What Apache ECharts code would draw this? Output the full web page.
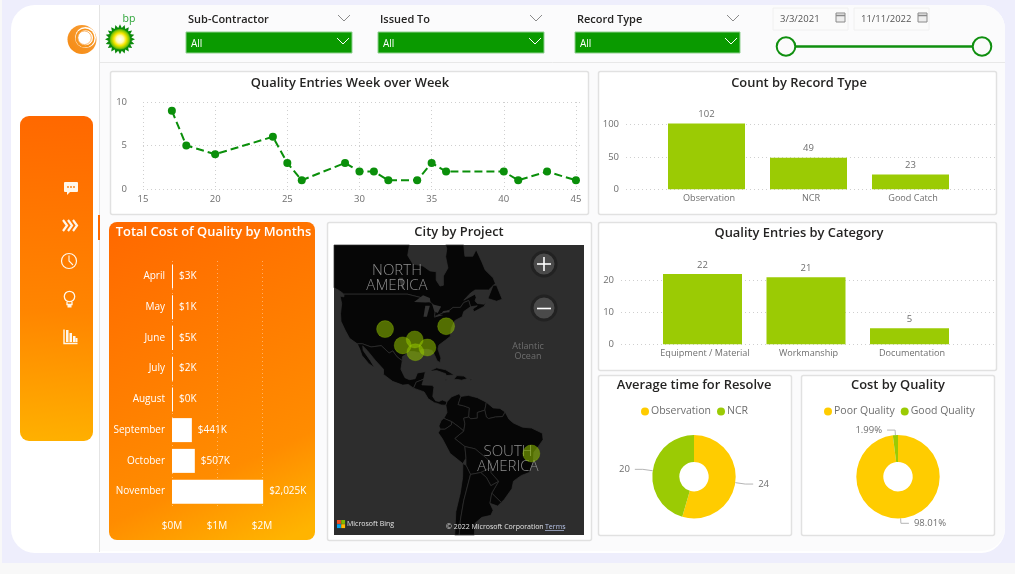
<!DOCTYPE html>
<html><head><meta charset="utf-8"><title>Quality dashboard</title>
<style>html,body{margin:0;padding:0;background:#f8f8f8;overflow:hidden}#c{width:1015px;height:574px}</style>
<script src="https://cdn.jsdelivr.net/npm/echarts@6/dist/echarts.min.js"></script></head>
<body><div id="c"></div>
<script>
// ---- data
const weeks = [17,18,20,24,25,26,29,30,31,32,34,35,36,40,41,43,45];
const weekEntries = [9,5,4,6,3,1,3,2,2,1,1,3,2,2,1,2,1];
const recordTypes = ['Observation','NCR','Good Catch'];
const recordCounts = [102,49,23];
const categories = ['Equipment / Material','Workmanship','Documentation'];
const categoryCounts = [22,21,5];
const months = ['April','May','June','July','August','September','October','November'];
const monthCostK = [3,1,5,2,0,441,507,2025];
const resolveNames = ['Observation','NCR'];
const resolveValues = [24,20];
const qualityNames = ['Poor Quality','Good Quality'];
const qualityValues = [98.01,1.99];
const cityLonLat = [[-104.8,37.8],[-77.8,38.8],[-97,31.9],[-91.7,34.1],[-86.1,31.1],[-91.4,29.3],[-40.1,-14]];
const slicers = ['Sub-Contractor','Issued To','Record Type'];
const dates = ['3/3/2021','11/11/2022'];
// ---- base-map outlines (lon, lat)
const viewLon = [-127.4,-16.8], viewLat = [-44.8,61.3];
const land = {
 canada:[[-127.4,50.8],[-127.4,61.3],[-94,61.3],[-94.8,59],[-92.5,57],[-88,56.5],[-85,55.3],[-82.2,55.1],[-82.2,52.9],[-80.5,51.3],[-79,51.5],[-79,54],[-77,56],[-78,58.7],[-77.5,60.5],[-78,61.3],[-70,61.3],[-69.5,58.8],[-66,58.8],[-64.5,60.3],[-62,57.5],[-60.5,55.5],[-57,53.5],[-56,52],[-59,50.2],[-65,50.2],[-67,49.3],[-70,47.2],[-65,49],[-64.5,48],[-65,47],[-64,46.2],[-61,46],[-60,46.9],[-61,45.3],[-65.5,43.6],[-66,44.5],[-64,45.5],[-67,45.2],[-67.8,47.1],[-70,46.5],[-71.5,45],[-74.7,45],[-76.5,44],[-79,43.3],[-83,42],[-82.5,45],[-84.5,46.5],[-89,48],[-95,49],[-123,49],[-125,50]],
 usa:[[-123,49],[-95,49],[-89,48],[-84.5,46.5],[-82.5,45],[-83,42],[-79,43.3],[-76.5,44],[-74.7,45],[-71.5,45],[-70,46.5],[-67.8,47.1],[-67,45.2],[-70,43.7],[-70.7,42],[-74,40.7],[-75.5,38],[-76,35.2],[-78,33.9],[-81,32],[-81.4,30.5],[-80.1,27],[-80.5,25.2],[-81.8,26],[-82.8,28],[-84,30],[-86,30.4],[-89,30.3],[-89.4,29],[-91.5,29.5],[-94,29.6],[-97.2,27.5],[-97.2,26],[-99.5,27.5],[-101.4,29.8],[-103,29],[-106.5,31.8],[-111,31.3],[-114.8,32.5],[-117.1,32.5],[-120.5,34.5],[-122.5,37.5],[-124.3,40.5],[-124.5,43],[-124,46.2],[-124.7,48.4],[-123,48.2]],
 mexico:[[-117.1,32.5],[-114.8,32.5],[-111,31.3],[-106.5,31.8],[-103,29],[-101.4,29.8],[-99.5,27.5],[-97.2,26],[-97.8,22.5],[-96,19],[-94,18.2],[-91.5,18.6],[-90.5,21],[-87,21.5],[-87.7,18.5],[-89,17.9],[-91,17.2],[-92.2,14.6],[-94.5,16.2],[-97,15.9],[-101.5,17.5],[-105.5,20.4],[-105.5,22.5],[-109,26],[-112.7,30],[-114.7,31.7],[-114.5,30],[-111.3,26],[-109.5,23.2],[-112,24.8],[-115,28],[-116,30.5]],
 central:[[-92.2,14.6],[-91,17.2],[-89,17.9],[-87.7,18.5],[-88.5,16],[-84,15.8],[-83.2,15],[-83.7,11],[-82.5,9.2],[-81,8.8],[-79.5,9.5],[-77.4,8.7],[-77.9,7.2],[-80,7.3],[-81.7,8],[-83,8.3],[-85.7,10],[-87.5,13]],
 colombia:[[-77.4,8.7],[-75.5,10.8],[-72,12.2],[-71.3,11],[-72.5,7.5],[-70,6.9],[-67.5,6],[-67.8,2],[-70,1.5],[-69.5,-1],[-70,-4.2],[-72,-2.5],[-75.3,-0.1],[-78.8,1.4],[-77.4,4],[-77.9,7.2]],
 venezuela:[[-71.3,11],[-68,11.5],[-64,10.5],[-60,8.5],[-60.7,5],[-64,4],[-64,1.5],[-67,1.2],[-67.8,2],[-67.5,6],[-70,6.9],[-72.5,7.5]],
 guianas:[[-60,8.5],[-57,6],[-54,5.8],[-51.7,4.2],[-52.8,2.2],[-56,2],[-59,1.3],[-60,2],[-60.7,5]],
 brazil:[[-51.7,4.2],[-50,1],[-48,-0.7],[-44,-2.5],[-40,-2.9],[-35.2,-5.2],[-34.9,-8],[-37,-11],[-39,-13.5],[-39.2,-17.5],[-41,-22],[-44.5,-23.2],[-48,-25.5],[-48.7,-28.5],[-52,-32.5],[-53.4,-33.7],[-57.6,-30.2],[-54.6,-25.6],[-58,-22],[-57.8,-18],[-60,-16],[-65,-12],[-69.5,-11],[-74,-7.5],[-70,-4.2],[-69.5,-1],[-70,1.5],[-67.8,2],[-67,1.2],[-64,1.5],[-64,4],[-60.7,5],[-60,2],[-59,1.3],[-56,2],[-52.8,2.2]],
 ecuador:[[-78.8,1.4],[-75.3,-0.1],[-75.5,-1.5],[-78.3,-3.4],[-80.3,-3.4],[-81,-2],[-80,0.5]],
 peru:[[-80.3,-3.4],[-78.3,-3.4],[-75.5,-1.5],[-75.3,-0.1],[-72,-2.5],[-70,-4.2],[-74,-7.5],[-69.5,-11],[-69,-16],[-70.4,-18.3],[-76,-14],[-79.5,-7.5],[-81.3,-5]],
 bolivia:[[-69.5,-11],[-65,-12],[-60,-16],[-57.8,-18],[-58,-20],[-62.5,-22],[-67,-22.8],[-69,-19],[-69,-16]],
 paraguay:[[-62.5,-22],[-58,-20],[-58,-22],[-54.6,-25.6],[-58,-27.3],[-60,-24]],
 chile:[[-70.4,-18.3],[-69,-19],[-67,-22.8],[-70,-33],[-71.5,-40],[-72,-44.8],[-74,-44.8],[-73.5,-37],[-71.5,-30],[-70.5,-24]],
 argentina:[[-67,-22.8],[-62.5,-22],[-60,-24],[-58,-27.3],[-54.6,-25.6],[-57.6,-30.2],[-58.4,-34],[-57,-36.5],[-58,-38.3],[-62,-39],[-65,-41],[-65.3,-44.8],[-72,-44.8],[-71.5,-40],[-70,-33]],
 uruguay:[[-57.6,-30.2],[-53.4,-33.7],[-55,-35],[-58.4,-34]],
 cuba:[[-84.9,21.9],[-82,23.1],[-78,22.3],[-74.2,20.2],[-77.7,19.9],[-78,20.7],[-82,22],[-84,21.8]],
 hispaniola:[[-74.4,18.4],[-73,19.9],[-69.9,19.7],[-68.4,18.6],[-71,18],[-72,18.2]],
 jamaica:[[-78.3,18.4],[-76.3,18.2],[-76.5,17.9],[-78.2,18]],
 puertorico:[[-67.2,18.5],[-65.7,18.4],[-65.9,18],[-67.2,18]],
 newfoundland:[[-59.3,47.7],[-57,51.5],[-55.5,51.5],[-53,47.5],[-55.5,46.9]]
};
const lakes = {
 superior:[[-92,46.7],[-88,48.7],[-85,47.9],[-84.7,46.6],[-87,46.5]],
 michigan:[[-87.8,42],[-86.3,42],[-85,45.5],[-87,45.5]],
 huron:[[-84,46],[-80,45.3],[-81.5,43.2],[-83,43.7]],
 erie:[[-83.3,41.7],[-79,42.6],[-79,42.9],[-81,42.7]],
 ontario:[[-79.7,43.3],[-76.3,43.5],[-76.3,44.1],[-79,43.9]],
 winnipeg:[[-98.8,53.5],[-97,53.5],[-96.5,50.5],[-97.2,50.5]]
};
// ---- style
const WATER='#2d2d2d', LAND='#060606', GREEN='#0a9a00', LIME='#9bcb04', YELLOW='#ffcc00', GRAY='#6e6e6e', TXT='#252423';
const FONT='"Open Sans","Noto Sans",sans-serif';
const ring=(o)=>o.concat([o[0]]);
const feat=(name,c)=>({type:'Feature',properties:{name},geometry:{type:'Polygon',coordinates:[ring(c)]}});
const world={type:'FeatureCollection',features:[
  feat('water',[[viewLon[0],viewLat[0]],[viewLon[1],viewLat[0]],[viewLon[1],viewLat[1]],[viewLon[0],viewLat[1]]]),
  ...Object.keys(land).map(k=>feat(k,land[k])),
  ...Object.keys(lakes).map(k=>feat(k,lakes[k]))]};
echarts.registerMap('americas',world);
const rad=Math.PI/180;
const project=(p)=>[p[0]*rad,-Math.log(Math.tan(Math.PI/4+p[1]*rad/2))];
const unproject=(p)=>[p[0]/rad,(2*Math.atan(Math.exp(-p[1]))-Math.PI/2)/rad];

// ---- chrome helpers
const G=[];
const rect=(x,y,w,h,fill,r,extra)=>G.push(Object.assign({type:'rect',z:-1,shape:{x,y,width:w,height:h,r:r||0},style:Object.assign({fill},extra||{})},{}));
const card=(x,y,w,h)=>rect(x+.5,y+.5,w,h,'#ffffff',2,{stroke:'#e1e1e1',lineWidth:1.5});
const text=(x,y,t,font,fill,align,z)=>G.push({type:'text',z:z==null?5:z,x,y,style:{text:t,font,fill,align:align||'left',verticalAlign:'middle',textAlign:align||'left',textVerticalAlign:'middle'}});
const line=(pts,stroke,w,z)=>G.push({type:'polyline',z:z==null?5:z,shape:{points:pts},style:{stroke,lineWidth:w||1,fill:null}});
const circle=(cx,cy,r,style,z)=>G.push({type:'circle',z:z==null?5:z,shape:{cx,cy,r},style});
const chevron=(cx,cy,color)=>line([[cx-6,cy-3],[cx,cy+3],[cx+6,cy-3]],color,1);

rect(2,0,1013,563,'#eeeefc');
rect(11,5,994,548,'#ffffff',24);
rect(100,5,905,546,'#fbfbfc',[0,24,24,0]);
line([[99.5,5],[99.5,552]],'#e4e4e4',1,0);
line([[100,62.5],[1005,62.5]],'#e8e8e8',1,0);
line([[99,215],[99,240]],'#ff6a00',2,1);

// sidebar
G.push({type:'rect',z:-1,shape:{x:20,y:116,width:73,height:325,r:9},style:{fill:new echarts.graphic.LinearGradient(.65,0,.35,1,[{offset:0,color:'#ff6800'},{offset:.6,color:'#ff8500'},{offset:1,color:'#ffb000'}])}});
const W='#fff7ea';
rect(64,182,14,10,W,1,{}); G[G.length-1].z=5;
G.push({type:'polygon',z:5,shape:{points:[[67,191],[71,191],[67,195]]},style:{fill:W}});
[68,71,74].forEach(x=>circle(x,187,.9,{fill:'#ff7a00'}));
[63,68,73].forEach(x=>line([[x,220],[x+4,225.5],[x,231]],W,2.2));
circle(69,261,7.5,{fill:null,stroke:W,lineWidth:1.2});
line([[69,255.5],[69,261],[73,265]],W,1.1);
circle(69.5,296.5,5.2,{fill:null,stroke:W,lineWidth:1.3});
line([[67,302],[67,304.5],[72,304.5],[72,302]],W,1.3);
rect(67.5,305,4,2.5,W,0); G[G.length-1].z=5;
line([[64,329.5],[64,343.5],[77.5,343.5]],W,1.4);
[[66,330,2.5,12],[69.5,333,2.5,9],[73,336,2.5,6],[75.5,338,2,4]].forEach(b=>{rect(b[0],b[1],b[2],b[3],W,0);G[G.length-1].z=5;});

// logos
circle(82,39.5,14.5,{fill:new echarts.graphic.LinearGradient(0,1,1,0,[{offset:0,color:'#f58a12'},{offset:1,color:'#f9a03a'}])},1);
circle(85.5,37.5,10.5,{fill:'#ffffff'},2);
circle(85,38,9.5,{fill:'#f7941d'},3);
circle(85.5,37.8,7.5,{fill:'#ffffff'},4);
circle(84.5,37.8,6.8,{fill:null,stroke:'#f7a54a',lineWidth:.8},4);
const starPts=[];for(let i=0;i<40;i++){const a=i*Math.PI/20,r=i%2?11.5:15;starPts.push([120+r*Math.sin(a),39.3-r*Math.cos(a)]);}
G.push({type:'polygon',z:1,shape:{points:starPts},style:{fill:'#0b8a0b'}});
circle(120,39.3,10.5,{fill:new echarts.graphic.RadialGradient(.5,.5,.5,[{offset:0,color:'#ffffff'},{offset:.35,color:'#fffbb0'},{offset:.6,color:'#f7e600'},{offset:.85,color:'#8cc800'},{offset:1,color:'#2ea30e'}])},2);
text(129,19,'bp','10.5px "Open Sans",sans-serif','#2fa53a','center');

// slicers
const slicerX=[186,378,575], slicerW=[166,166,165];
slicers.forEach((s,i)=>{
  text(slicerX[i]+2,19.5,s,'600 11px '+FONT,TXT);
  chevron(slicerX[i]+158,18,'#8a8a8a');
  rect(slicerX[i],32,slicerW[i],21,GREEN,0,{stroke:'#8fd08f',lineWidth:1});G[G.length-1].z=1;
  text(slicerX[i]+5,44.5,'All','10px '+FONT,'#ffffff');
  chevron(slicerX[i]+slicerW[i]-9,41,'#ffffff');
});
// date range
[773,854].forEach((x,i)=>{
  rect(x,8,75,22,'#fbfbfb',0,{stroke:'#f0f0f0',lineWidth:1});
  text(x+7,19.5,dates[i],'9.5px '+FONT,'#555');
  const ix=x+(i?64:63);
  G.push({type:'rect',z:5,shape:{x:ix,y:13,width:9,height:9},style:{fill:'#ededed',stroke:'#8a8a8a',lineWidth:1}});
  line([[ix,15.5],[ix+9,15.5]],'#8a8a8a',1.5);
});
line([[786,46.5],[982,46.5]],'#0f8f0f',2.5,1);
[786,982].forEach(x=>circle(x,46.5,9.3,{fill:'#fbfbfb',stroke:'#0f8f0f',lineWidth:2},2));

// cards
card(110,71,478,143); card(598,71,398,143); card(598,222,398,148);
card(327,222,264,318); card(598,375,193,160); card(801,375,193,160);
G.push({type:'rect',z:-1,shape:{x:109,y:222,width:206,height:318,r:8},style:{fill:new echarts.graphic.LinearGradient(.15,0,.85,1,[{offset:0,color:'#ff6a00'},{offset:.75,color:'#ff8c00'},{offset:1,color:'#ffb400'}])}});

// map overlays
const MT='#8e8e8e';
text(397,271,'NORTH','300 15px "Open Sans",sans-serif',MT,'center',1);
text(397,286,'AMERICA','300 15px "Open Sans",sans-serif',MT,'center',1);
text(528,346,'Atlantic','9px "Open Sans",sans-serif','#6e6e6e','center',1);
text(528,356,'Ocean','9px "Open Sans",sans-serif','#6e6e6e','center',1);
text(508,452,'SOUTH','300 15px "Open Sans",sans-serif',MT,'center',1);
text(508,467,'AMERICA','300 15px "Open Sans",sans-serif',MT,'center',1);
[264,308].forEach(y=>circle(544,y,12,{fill:'#4a4a4a',stroke:'#222',lineWidth:3},6));
line([[537,264],[551,264]],'#fff',1.6,7); line([[544,257],[544,271]],'#fff',1.6,7); line([[537,308.5],[551,308.5]],'#fff',1.6,7);
[['#f25022',337,520],['#7fba00',341.2,520],['#00a4ef',337,524.2],['#ffb900',341.2,524.2]].forEach(a=>{rect(a[1],a[2],3.9,3.9,a[0],0);G[G.length-1].z=6;});
text(347,524,'Microsoft Bing','7px "Open Sans",sans-serif','#e2e2e2','left',6);
text(446,526.5,'© 2022 Microsoft Corporation','7px "Open Sans",sans-serif','#e2e2e2','left',6);
text(545,526.5,'Terms','7px "Open Sans",sans-serif','#b8c4e8','left',6);
line([[545,530.5],[564,530.5]],'#b8c4e8',.7,6);

// ---- option
const titleAt=(t,x,y,color)=>({text:t,left:x,top:y,padding:0,textAlign:'center',textStyle:{fontFamily:FONT,fontWeight:600,fontSize:12.9,color:color||TXT}});
const dotted={show:true,lineStyle:{type:[1,3],color:'#cfcfcf',width:1}};
const lab={fontFamily:FONT,fontSize:9.5,color:GRAY};
const ylab={fontFamily:FONT,fontSize:9.5,color:GRAY,padding:[2,0,0,0]};
const xlab={fontFamily:FONT,fontSize:9.1,color:GRAY,padding:[0,0,0,5]};
const barLabel={show:true,position:'top',distance:4,fontFamily:FONT,fontSize:9.5,color:GRAY};
const hidden={show:false};
const pieBase=(cx,names,vals,fmt,colors,len)=>({type:'pie',center:[cx,476.7],radius:[14.7,41.7],startAngle:90,clockwise:true,silent:true,animation:false,
  label:{formatter:fmt,fontFamily:FONT,fontSize:9.5,color:GRAY},
  labelLine:{length:len,length2:8,lineStyle:{color:'#b5b5b5',width:1}},
  data:names.map((n,i)=>({name:n,value:vals[i],itemStyle:{color:colors[i]}}))});
const legendBase=(x,names)=>({left:x,top:406,padding:0,icon:'circle',itemWidth:8,itemHeight:8,itemGap:6,selectedMode:false,data:names,textStyle:{fontFamily:FONT,fontSize:10.5,color:GRAY,padding:[0,0,0,-3]}});
const option={
 animation:false,
 graphic:{elements:G},
 title:[titleAt('Quality Entries Week over Week',350,77),titleAt('Count by Record Type',799,77),
   titleAt('Quality Entries by Category',799,227),titleAt('Total Cost of Quality by Months',213.5,226,'#ffffff'),
   titleAt('City by Project',459,226),titleAt('Average time for Resolve',694,379),titleAt('Cost by Quality',898,379)],
 grid:[
  {left:143,top:102,width:438,height:87},
  {left:626,top:124.7,width:369,height:64.6},
  {left:655.5,top:111.8,width:306,height:77.5},
  {left:621,top:280.5,width:373,height:63.8},
  {left:650.75,top:248.6,width:310.5,height:95.7},
  {left:172,top:261,width:112.5,height:246}
 ],
 xAxis:[
  {gridIndex:0,type:'value',min:15,max:45.35,interval:5,axisLine:hidden,axisTick:hidden,splitLine:Object.assign({showMaxLine:false},dotted),axisLabel:Object.assign({margin:5,showMaxLabel:false},lab)},
  {gridIndex:1,type:'value',min:0,max:1,show:false},
  {gridIndex:2,type:'category',data:recordTypes,axisLine:hidden,axisTick:hidden,axisLabel:Object.assign({margin:5,interval:0},xlab)},
  {gridIndex:3,type:'value',min:0,max:1,show:false},
  {gridIndex:4,type:'category',data:categories,axisLine:hidden,axisTick:hidden,axisLabel:Object.assign({margin:5,interval:0},xlab)},
  {gridIndex:5,type:'value',min:0,max:2500,interval:1000,axisLine:hidden,axisTick:hidden,
   splitLine:{show:true,showMaxLine:false,lineStyle:{type:[1,3],color:'rgba(255,255,255,.4)'}},
   axisLabel:{margin:14,showMaxLabel:false,fontFamily:FONT,fontSize:10,color:'#ffffff',formatter:v=>'$'+v/1000+'M'}}
 ],
 yAxis:[
  {gridIndex:0,type:'value',min:0,max:10,interval:5,axisLine:hidden,axisTick:hidden,splitLine:dotted,axisLabel:Object.assign({margin:16},ylab)},
  {gridIndex:1,type:'value',min:0,max:100,interval:50,axisLine:hidden,axisTick:hidden,splitLine:dotted,axisLabel:Object.assign({margin:7},ylab)},
  {gridIndex:2,type:'value',min:0,max:120,show:false},
  {gridIndex:3,type:'value',min:0,max:20,interval:10,axisLine:hidden,axisTick:hidden,splitLine:dotted,axisLabel:Object.assign({margin:7},ylab)},
  {gridIndex:4,type:'value',min:0,max:30,show:false},
  {gridIndex:5,type:'category',inverse:true,data:months,axisLine:hidden,axisTick:hidden,axisLabel:{margin:7,interval:0,fontFamily:FONT,fontSize:10,color:'#ffffff'}}
 ],
 geo:{map:'americas',left:334,top:245,width:250,height:290,roam:false,silent:true,
  projection:{project,unproject},
  label:{show:false},
  itemStyle:{areaColor:LAND,borderColor:'#303030',borderWidth:.7},
  regions:[{name:'water',itemStyle:{areaColor:WATER,borderWidth:0}}].concat(Object.keys(lakes).map(n=>({name:n,itemStyle:{areaColor:'#333333',borderWidth:0}})))},
 legend:[legendBase(641,resolveNames),legendBase(824,qualityNames)],
 series:[
  {type:'line',xAxisIndex:0,yAxisIndex:0,data:weeks.map((w,i)=>[w,weekEntries[i]]),symbol:'circle',symbolSize:8,
   lineStyle:{type:'dashed',width:2,color:'#0a8f0a'},itemStyle:{color:'#0a8f0a'},silent:true},
  {type:'bar',xAxisIndex:2,yAxisIndex:2,data:recordCounts,barWidth:77,itemStyle:{color:LIME},label:barLabel,silent:true},
  {type:'bar',xAxisIndex:4,yAxisIndex:4,data:categoryCounts,barWidth:79,itemStyle:{color:LIME},label:barLabel,silent:true},
  {type:'bar',xAxisIndex:5,yAxisIndex:5,data:monthCostK,barWidth:24,barMinHeight:1,itemStyle:{color:'#ffffff'},silent:true,
   label:{show:true,position:'right',distance:6,fontFamily:FONT,fontSize:10,color:'#ffffff',formatter:p=>'$'+p.value.toLocaleString('en-US')+'K'}},
  {type:'scatter',coordinateSystem:'geo',data:cityLonLat,symbolSize:17,itemStyle:{color:'rgba(150,200,0,.68)',borderColor:'rgba(150,200,0,.35)',borderWidth:1},silent:true},
  pieBase(694,resolveNames,resolveValues,'{c}',[YELLOW,LIME],10),
  pieBase(898,qualityNames,qualityValues,'{c}%',[YELLOW,LIME],5)
 ]
};
echarts.init(document.getElementById('c'),null,{renderer:'canvas'}).setOption(option);
</script></body></html>
